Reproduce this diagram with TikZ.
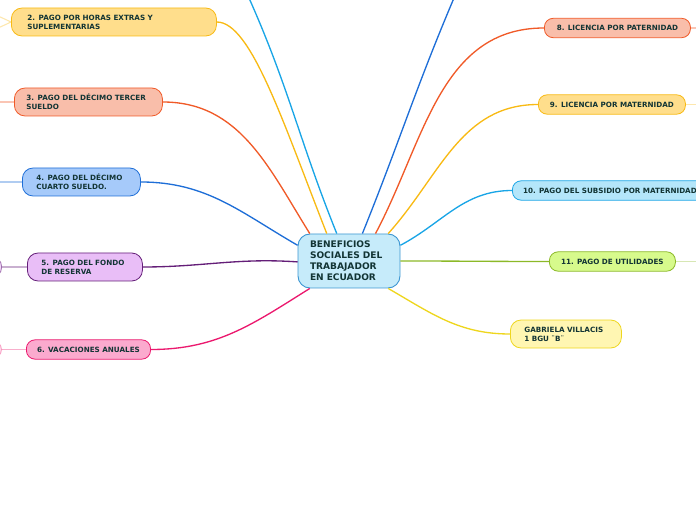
\documentclass[tikz,border=0pt]{standalone}
\usepackage{fontspec}
\setmainfont{DejaVu Sans}
\definecolor{ink}{RGB}{18, 52, 52}
\definecolor{corefill}{RGB}{198, 235, 250}
\definecolor{coreline}{RGB}{60, 150, 210}
\definecolor{yelfill}{RGB}{255, 222, 140}
\definecolor{yelline}{RGB}{248, 186, 20}
\definecolor{salfill}{RGB}{249, 190, 170}
\definecolor{salline}{RGB}{240, 90, 40}
\definecolor{bluefill}{RGB}{166, 202, 250}
\definecolor{blueline}{RGB}{30, 110, 215}
\definecolor{purpfill}{RGB}{233, 190, 247}
\definecolor{purpline}{RGB}{100, 30, 120}
\definecolor{pinkfill}{RGB}{251, 170, 206}
\definecolor{pinkline}{RGB}{235, 25, 110}
\definecolor{skyfill}{RGB}{180, 230, 250}
\definecolor{skyline}{RGB}{25, 165, 230}
\definecolor{limefill}{RGB}{215, 250, 140}
\definecolor{limeline}{RGB}{140, 185, 40}
\definecolor{lemfill}{RGB}{255, 246, 178}
\definecolor{lemline}{RGB}{238, 214, 30}
\tikzset{
    core/.style={rectangle, draw=coreline, fill=corefill, text=ink, line width=0.7pt, rounded corners=9pt, align=left, text width=58.5pt, inner xsep=9pt, minimum height=40.5pt, font=\fontsize{6.8}{8.25}\selectfont\bfseries},
    topic/.style={rectangle, text=ink, line width=0.6pt, rounded corners=8pt, align=left, inner xsep=10.5pt, minimum height=21pt, anchor=west, font=\fontsize{5.4}{6.75}\selectfont\bfseries},
    leaf/.style={topic, rounded corners=6.5pt, align=center, inner xsep=8pt, minimum height=14.5pt},
    link/.style={line width=1pt},
    stub/.style={line width=0.8pt, opacity=0.35}
}
\begin{document}
\begin{tikzpicture}[x=0.75pt, y=-0.75pt]
    \useasboundingbox (0,0) rectangle (696,520);
    \clip (0,0) rectangle (696,520);
    \node (benef) [core] at (349,261) {BENEFICIOS\\SOCIALES DEL\\TRABAJADOR\\EN ECUADOR};
    \node (extras) [topic, draw=yelline, fill=yelfill, text width=129.75pt, inner xsep=12pt] at (11,22) {2. PAGO POR HORAS EXTRAS Y\\SUPLEMENTARIAS};
    \node (tercero) [topic, draw=salline, fill=salfill, text width=93pt, inner xsep=9pt] at (14,102) {3. PAGO DEL DÉCIMO TERCER\\SUELDO};
    \node (cuarto) [topic, draw=blueline, fill=bluefill, text width=67.5pt] at (22,182) {4. PAGO DEL DÉCIMO\\CUARTO SUELDO.};
    \node (fondo) [topic, draw=purpline, fill=purpfill, text width=65.25pt] at (27,267) {5. PAGO DEL FONDO\\DE RESERVA};
    \node (vacas) [leaf, draw=pinkline, fill=pinkfill, minimum width=93pt] at (26,349.5) {6. VACACIONES ANUALES};
    \node (paternidad) [leaf, draw=salline, fill=salfill, minimum width=109.5pt] at (544,28) {8. LICENCIA POR PATERNIDAD};
    \node (maternidad) [leaf, draw=yelline, fill=yelfill, minimum width=110.25pt] at (538,104.5) {9. LICENCIA POR MATERNIDAD};
    \node (subsidio) [leaf, draw=skyline, fill=skyfill] at (512,190.5) {10. PAGO DEL SUBSIDIO POR MATERNIDAD};
    \node (utilidades) [leaf, draw=limeline, fill=limefill, minimum width=94.5pt] at (549,261.5) {11. PAGO DE UTILIDADES};
    \node (autora) [topic, draw=lemline, fill=lemfill, text width=62.25pt] at (510,334) {GABRIELA VILLACIS\\1 BGU ¨B¨};

    % children cut off by the page edge
    \node (fondohijo) [topic, draw=purpline, fill=purpfill, minimum width=45pt, minimum height=16.5pt, anchor=east, opacity=0.6] at (2,267) {};
    \node (vacashijo) [topic, draw=pinkline, fill=pinkfill, minimum width=45pt, minimum height=15pt, anchor=east, opacity=0.4] at (2,349.5) {};
    \coordinate (topuno) at (249,-2);
    \coordinate (topsiete) at (454,-2);
    \coordinate (extrasa) at (-4,15);
    \coordinate (extrasb) at (-4,29);
    \coordinate (terceroc) at (-4,102);
    \coordinate (cuartoc) at (-4,182);
    \coordinate (paternidadc) at (700,28);
    \coordinate (maternidadc) at (700,104.5);
    \coordinate (utilidadesc) at (700,261.5);

    \draw [link, skyline] (topuno) to[out=-66, in=112] (benef.114);
    \draw [link, blueline] (topsiete) to[out=-113, in=68] (benef.64);
    \draw [link, yelline] (extras.east) .. controls +(34,0) and +(-44,-112) .. (benef.129);
    \draw [link, salline] (tercero.east) to[out=0, in=122] (benef.145);
    \draw [link, blueline] (cuarto.east) to[out=0, in=150] (benef.163);
    \draw [link, purpline] (fondo.east) to[out=0, in=176] (benef.181);
    \draw [link, pinkline] (vacas.east) to[out=0, in=212] (benef.215);
    \draw [link, salline] (paternidad.west) to[out=180, in=62] (benef.46);
    \draw [link, yelline] (maternidad.west) to[out=180, in=48] (benef.35);
    \draw [link, skyline] (subsidio.west) to[out=180, in=28] (benef.17);
    \draw [link, limeline] (utilidades.west) to[out=180, in=0] (benef.0);
    \draw [link, lemline] (autora.west) to[out=180, in=-30] (benef.-35);

    \draw [stub, yelline] (extras.west) -- (extrasa);
    \draw [stub, yelline] (extras.west) -- (extrasb);
    \draw [stub, salline] (tercero.west) -- (terceroc);
    \draw [stub, blueline] (cuarto.west) -- (cuartoc);
    \draw [stub, purpline] (fondo.west) -- (fondohijo.east);
    \draw [stub, pinkline] (vacas.west) -- (vacashijo.east);
    \draw [stub, salline] (paternidad.east) -- (paternidadc);
    \draw [stub, yelline] (maternidad.east) -- (maternidadc);
    \draw [stub, limeline] (utilidades.east) -- (utilidadesc);
\end{tikzpicture}
\end{document}
